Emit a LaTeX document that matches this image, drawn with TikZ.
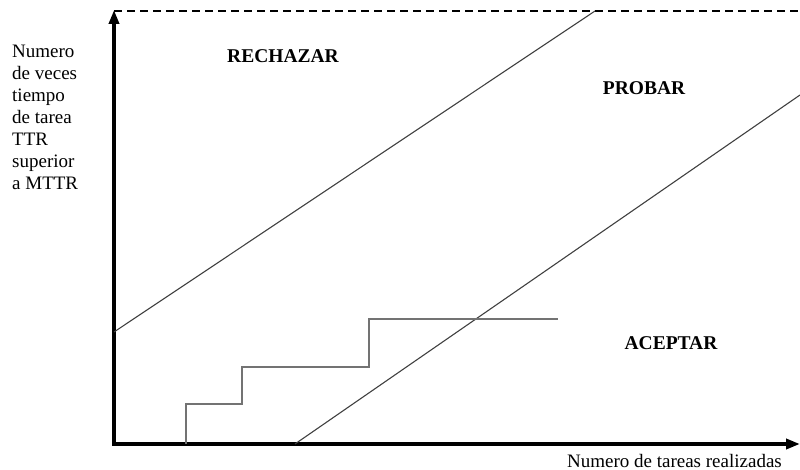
\documentclass[tikz,border=0pt]{standalone}
\usepackage{fontspec}
\setmainfont{Liberation Serif}
\usetikzlibrary{arrows.meta}
\begin{document}
\begin{tikzpicture}[x=1pt,y=-1pt,
  axis/.style={line width=3.5pt,black},
  axistip/.style={-{Triangle[length=14pt,width=10pt]}},
  limitline/.style={line width=1.1pt,black!75},
  stairline/.style={line width=1.4pt,black!55},
  toplimit/.style={line width=1.3pt,black,dash pattern=on 8pt off 5pt},
  region/.style={font=\fontsize{19.5}{22}\selectfont\bfseries,inner sep=0pt},
  axislabel/.style={font=\fontsize{19}{22}\selectfont,inner sep=0pt}]
  \useasboundingbox (0,0) rectangle (800,470);

  % axes
  \coordinate (O) at (114,444);
  \coordinate (ytop) at (114,10);
  \coordinate (xend) at (800,444);
  \draw[axis,axistip] (114,445.75) -- (ytop);
  \draw[axis,axistip] (112.25,444) -- (xend);

  % upper bound of the chart
  \coordinate (tr) at (800,11);
  \draw[toplimit] (114,11) -- (tr);

  % rejection and acceptance limits
  \coordinate (rejA) at (114,332);
  \coordinate (rejB) at (595,11);
  \draw[limitline] (rejA) -- (rejB);
  \coordinate (accA) at (295,444);
  \coordinate (accB) at (800,95);
  \draw[limitline] (accA) -- (accB);

  % cumulative record of tasks
  \coordinate (s0) at (186,444);
  \coordinate (s1) at (186,404);
  \coordinate (s2) at (242,404);
  \coordinate (s3) at (242,367);
  \coordinate (s4) at (369,367);
  \coordinate (s5) at (369,319);
  \coordinate (s6) at (558,319);
  \draw[stairline] (s0) -- (s1) -- (s2) -- (s3) -- (s4) -- (s5) -- (s6);

  % region names
  \node[region] (rechazar) at (283,56) {RECHAZAR};
  \node[region] (probar) at (644,88) {PROBAR};
  \node[region] (aceptar) at (671,343) {ACEPTAR};

  % axis labels
  \node[axislabel,anchor=north west,align=left] (ylab) at (12,45)
    {Numero\\de veces\\tiempo\\de tarea\\TTR\\superior\\a MTTR};
  \node[axislabel,anchor=base east] (xlab) at (782,467) {Numero de tareas realizadas};
\end{tikzpicture}
\end{document}
